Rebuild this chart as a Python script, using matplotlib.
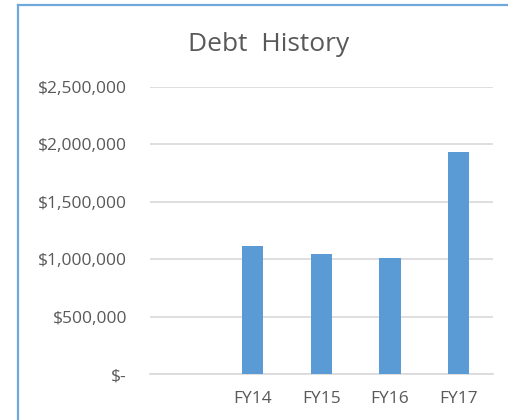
import matplotlib.pyplot as plt
from matplotlib.lines import Line2D
from matplotlib.ticker import FuncFormatter

# data (first category is blank in the source)
categories = ['', 'FY14', 'FY15', 'FY16', 'FY17']
debt = [0, 1117000, 1045000, 1008000, 1934000]
yticks = [0, 500000, 1000000, 1500000, 2000000, 2500000]

plt.rcParams['font.family'] = ['Open Sans', 'DejaVu Sans']
text_col = '#595959'
grid_col = '#d9d9d9'
bar_col = '#5b9bd5'

fig = plt.figure(figsize=(5.08, 4.2), dpi=100)
ax = fig.add_axes([0.295, 0.1095, 0.675, 0.6835])

x = range(len(categories))
ax.bar(x, debt, width=0.31, color=bar_col, zorder=3)

ax.set_xlim(-0.5, len(categories) - 0.5)
ax.set_ylim(0, 2500000)
ax.set_yticks(yticks)
ax.set_xticks(list(x))
ax.set_xticklabels(categories)

def money(v, pos):
    if v == 0:
        return '$-'
    return '${:,.0f}'.format(v)

ax.yaxis.set_major_formatter(FuncFormatter(money))
ax.tick_params(axis='both', length=0, colors=text_col, labelsize=12.5)
ax.tick_params(axis='y', pad=16.5)
ax.tick_params(axis='x', pad=12)

ax.grid(axis='y', color=grid_col, linewidth=1.2, zorder=0)
for s in ['top', 'right', 'left']:
    ax.spines[s].set_visible(False)
ax.spines['bottom'].set_color(grid_col)
ax.spines['bottom'].set_linewidth(1.2)

fig.text(0.528, 0.893, 'Debt  History', ha='center', va='center',
         fontsize=19, color=text_col)

# blue frame (left and top edges visible in the crop)
fx0, fy0 = 18 / 508, 1 - 5 / 420
fig.add_artist(Line2D([fx0, fx0], [0, fy0], transform=fig.transFigure,
                      color='#6fa8dc', linewidth=1.6))
fig.add_artist(Line2D([fx0, 1], [fy0, fy0], transform=fig.transFigure,
                      color='#6fa8dc', linewidth=1.6))

fig.savefig('out.png', dpi=100)
